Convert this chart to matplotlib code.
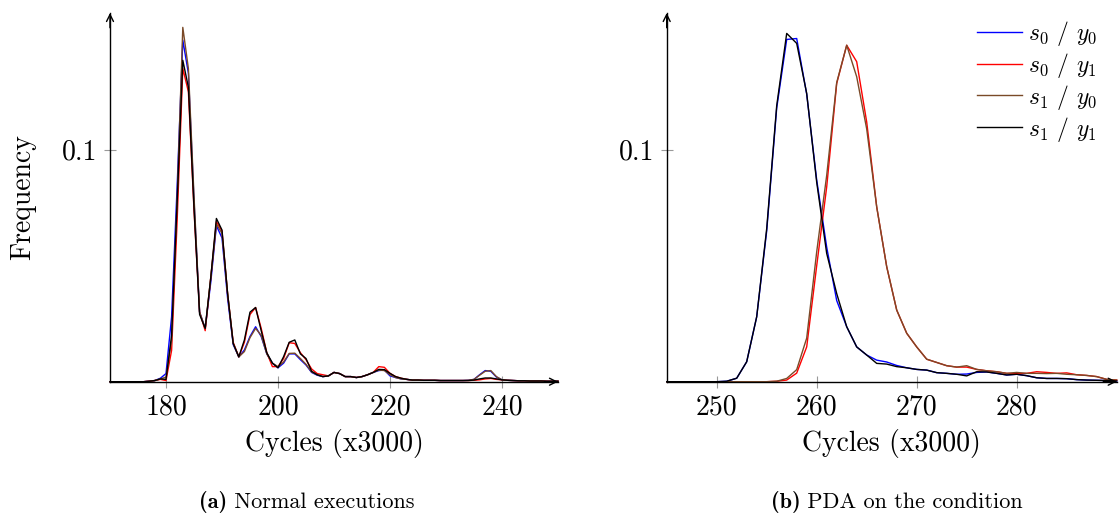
import numpy as np
import matplotlib
matplotlib.use("Agg")
from matplotlib import pyplot as plt

plt.rcParams["font.family"] = "cmr10"
plt.rcParams["mathtext.fontset"] = "cm"
plt.rcParams["axes.unicode_minus"] = False
plt.rcParams["axes.formatter.use_mathtext"] = True

# (a) normal executions, bins 170..250
cycles_a = np.arange(170, 251)
a_s0_y0 = [0, 0, 0, 0, 0, 0, 0, 0.0002, 0.0005, 0.0015,
           0.0035, 0.028, 0.085, 0.1473, 0.133, 0.078, 0.030, 0.023, 0.043, 0.0673,
           0.062, 0.036, 0.016, 0.0107, 0.0137, 0.0195, 0.0237, 0.0195, 0.012, 0.008,
           0.006, 0.008, 0.012, 0.012, 0.0095, 0.0072, 0.004, 0.0028, 0.0022, 0.0025,
           0.004, 0.0035, 0.0022, 0.0022, 0.0018, 0.0022, 0.003, 0.004, 0.0048, 0.005,
           0.0025, 0.0018, 0.0012, 0.001, 0.0007, 0.0007, 0.0006, 0.0006, 0.0006, 0.0005,
           0.0005, 0.0005, 0.0005, 0.0005, 0.0006, 0.001, 0.003, 0.0048, 0.0045, 0.002,
           0.0008, 0.0006, 0.0005, 0.0004, 0.0004, 0.0003, 0.0003, 0.0003, 0.0002, 0.0002,
           0.0002]
a_s0_y1 = [0, 0, 0, 0, 0, 0, 0, 0.0002, 0.0005, 0.001,
           0.0005, 0.0135, 0.07, 0.1351, 0.125, 0.074, 0.030, 0.022, 0.045, 0.069,
           0.065, 0.038, 0.017, 0.0107, 0.017, 0.029, 0.032, 0.023, 0.0125, 0.0065,
           0.0065, 0.010, 0.0168, 0.0165, 0.0125, 0.0095, 0.0055, 0.0035, 0.003, 0.0025,
           0.004, 0.0035, 0.0022, 0.0022, 0.0018, 0.0022, 0.003, 0.004, 0.0065, 0.0062,
           0.0036, 0.0022, 0.0015, 0.001, 0.0007, 0.0007, 0.0006, 0.0006, 0.0006, 0.0005,
           0.0005, 0.0005, 0.0005, 0.0005, 0.0005, 0.0006, 0.0008, 0.0012, 0.0014, 0.001,
           0.0008, 0.0006, 0.0005, 0.0004, 0.0004, 0.0003, 0.0003, 0.0003, 0.0002, 0.0002,
           0.0002]
a_s1_y0 = [0, 0, 0, 0, 0, 0, 0, 0.0002, 0.0005, 0.0012,
           0.002, 0.018, 0.08, 0.1528, 0.135, 0.08, 0.030, 0.023, 0.045, 0.068,
           0.064, 0.038, 0.0165, 0.0107, 0.013, 0.019, 0.023, 0.020, 0.012, 0.008,
           0.0065, 0.0085, 0.0122, 0.0123, 0.010, 0.0075, 0.0042, 0.003, 0.0022, 0.0025,
           0.004, 0.0035, 0.0022, 0.0022, 0.0018, 0.0022, 0.003, 0.004, 0.005, 0.0048,
           0.003, 0.0018, 0.0012, 0.001, 0.0007, 0.0007, 0.0006, 0.0006, 0.0006, 0.0005,
           0.0005, 0.0005, 0.0005, 0.0005, 0.0006, 0.001, 0.0028, 0.0045, 0.0048, 0.0022,
           0.0008, 0.0006, 0.0005, 0.0004, 0.0004, 0.0003, 0.0003, 0.0003, 0.0002, 0.0002,
           0.0002]
a_s1_y1 = [0, 0, 0, 0, 0, 0, 0, 0.0002, 0.0005, 0.0012,
           0.001, 0.02, 0.078, 0.1386, 0.127, 0.075, 0.029, 0.023, 0.045, 0.0704,
           0.0654, 0.038, 0.0165, 0.0107, 0.018, 0.030, 0.032, 0.022, 0.0125, 0.008,
           0.006, 0.0108, 0.017, 0.018, 0.012, 0.010, 0.0045, 0.003, 0.0022, 0.0025,
           0.004, 0.0035, 0.0022, 0.0022, 0.0018, 0.0022, 0.003, 0.004, 0.0053, 0.0052,
           0.0036, 0.0022, 0.0015, 0.001, 0.0007, 0.0007, 0.0006, 0.0006, 0.0006, 0.0005,
           0.0005, 0.0005, 0.0005, 0.0005, 0.0005, 0.0007, 0.0012, 0.0016, 0.0016, 0.0012,
           0.0008, 0.0006, 0.0005, 0.0004, 0.0004, 0.0003, 0.0003, 0.0003, 0.0002, 0.0002,
           0.0002]

# (b) PDA on the condition, bins 245..290
cycles_b = np.arange(245, 291)
b_s0_y0 = [0, 0, 0, 0, 0, 0, 0.0002, 0.0015, 0.0086, 0.028,
           0.065, 0.118, 0.1476, 0.148, 0.124, 0.087, 0.058, 0.035, 0.0237, 0.015,
           0.0115, 0.0093, 0.0085, 0.007, 0.006, 0.0053, 0.005, 0.0039, 0.0036, 0.0032,
           0.0033, 0.004, 0.0042, 0.0036, 0.0029, 0.0032, 0.0026, 0.0017, 0.0014, 0.0014,
           0.0013, 0.0009, 0.0007, 0.0006, 0.0005, 0.0003]
b_s0_y1 = [0, 0, 0, 0, 0, 0, 0, 0, 0, 0,
           0, 0.0002, 0.0007, 0.0037, 0.015, 0.05, 0.084, 0.1286, 0.1451, 0.138,
           0.112, 0.0754, 0.0496, 0.0309, 0.0209, 0.015, 0.0097, 0.0083, 0.0069, 0.0063,
           0.0063, 0.0053, 0.0047, 0.0043, 0.0036, 0.0035, 0.0036, 0.0043, 0.004, 0.0036,
           0.0038, 0.003, 0.0027, 0.0022, 0.001, 0.0007]
b_s1_y0 = [0, 0, 0, 0, 0, 0, 0, 0, 0, 0,
           0, 0.0002, 0.0014, 0.0052, 0.0188, 0.056, 0.089, 0.129, 0.1451, 0.1315,
           0.109, 0.0754, 0.0496, 0.0309, 0.0209, 0.015, 0.0097, 0.0083, 0.0069, 0.0063,
           0.0069, 0.0053, 0.0047, 0.0043, 0.0036, 0.004, 0.0036, 0.0036, 0.0035, 0.0036,
           0.0032, 0.003, 0.0027, 0.0022, 0.001, 0.0007]
b_s1_y1 = [0, 0, 0, 0, 0, 0, 0.0002, 0.0015, 0.0086, 0.028,
           0.066, 0.119, 0.1502, 0.1459, 0.1243, 0.086, 0.0553, 0.038, 0.0237, 0.015,
           0.0115, 0.0079, 0.0076, 0.0065, 0.006, 0.0053, 0.005, 0.0039, 0.0036, 0.0032,
           0.0025, 0.0043, 0.0042, 0.0036, 0.0029, 0.0032, 0.0026, 0.0017, 0.0014, 0.0014,
           0.0013, 0.0009, 0.0007, 0.0006, 0.0005, 0.0003]

labels = [r"$s_0$ / $y_0$", r"$s_0$ / $y_1$", r"$s_1$ / $y_0$", r"$s_1$ / $y_1$"]
colors = ["#0000ff", "#ff0000", "#7a4a28", "#000000"]

W, H = 1119, 520
fig = plt.figure(figsize=(W / 100, H / 100), dpi=100)


def px_axes(x0, x1, y_top, y_bot):
    return fig.add_axes([x0 / W, 1 - y_bot / H, (x1 - x0) / W, (y_bot - y_top) / H])


def style_axes(ax, xlim, xticks):
    ax.set_xlim(*xlim)
    ax.set_ylim(0, 0.159)
    for side in ("top", "right"):
        ax.spines[side].set_visible(False)
    for side in ("left", "bottom"):
        ax.spines[side].set_linewidth(1.0)
        ax.spines[side].set_zorder(5)
    ax.set_xticks(xticks)
    ax.set_xticklabels([str(t) for t in xticks])
    ax.set_yticks([0.1])
    ax.set_yticklabels(["0.1"])
    ax.tick_params(direction="inout", length=8, width=0.8, color="#999999",
                   labelsize=20, pad=5)
    arrow = dict(arrowstyle="->, head_length=0.5, head_width=0.25", lw=1.0, color="black",
                 shrinkA=0, shrinkB=0)
    ax.annotate("", xy=(1.0, 0), xytext=(0.97, 0), xycoords="axes fraction",
                arrowprops=arrow, annotation_clip=False)
    ax.annotate("", xy=(0, 1.0), xytext=(0, 0.96), xycoords="axes fraction",
                arrowprops=arrow, annotation_clip=False)


def caption(xc, yc, tag, text, size=16):
    # bold tag followed by regular text, centred as one line
    r = fig.canvas.get_renderer()
    t1 = fig.text(0, 1 - yc / H, tag, fontfamily="cmb10", fontsize=size, va="center")
    t2 = fig.text(0, 1 - yc / H, " " + text, fontsize=size, va="center")
    w1 = t1.get_window_extent(r).width
    w2 = t2.get_window_extent(r).width
    x0 = xc - (w1 + w2) / 2
    t1.set_x(x0 / W)
    t2.set_x((x0 + w1) / W)


ax_a = px_axes(110, 558, 13, 381.7)
for ys, c in zip([a_s0_y0, a_s0_y1, a_s1_y0, a_s1_y1], colors):
    ax_a.plot(cycles_a, ys, color=c, lw=1.0, clip_on=False)
style_axes(ax_a, (170, 250), [180, 200, 220, 240])

ax_b = px_axes(666.7, 1116.7, 13, 381.7)
lines = []
for ys, c, lab in zip([b_s0_y0, b_s0_y1, b_s1_y0, b_s1_y1], colors, labels):
    ln, = ax_b.plot(cycles_b, ys, color=c, lw=1.0, label=lab, clip_on=False)
    lines.append(ln)
style_axes(ax_b, (245, 290), [250, 260, 270, 280])

ax_b.legend(handles=lines, loc="upper left", bbox_to_anchor=(977 / W, 1 - 19 / H),
            bbox_transform=fig.transFigure, frameon=False, fontsize=17,
            handlelength=1.9, handletextpad=0.25, labelspacing=0.12,
            borderpad=0, borderaxespad=0)

fig.text(23 / W, 1 - 197 / H, "Frequency", rotation=90, ha="center", va="center", fontsize=20)
fig.text(334 / W, 1 - 443 / H, "Cycles (x3000)", ha="center", va="center", fontsize=20)
fig.text(891.7 / W, 1 - 443 / H, "Cycles (x3000)", ha="center", va="center", fontsize=20)
caption(306.5, 502, "(a)", "Normal executions")
caption(897, 502, "(b)", "PDA on the condition")

fig.savefig("out.png", dpi=100)
